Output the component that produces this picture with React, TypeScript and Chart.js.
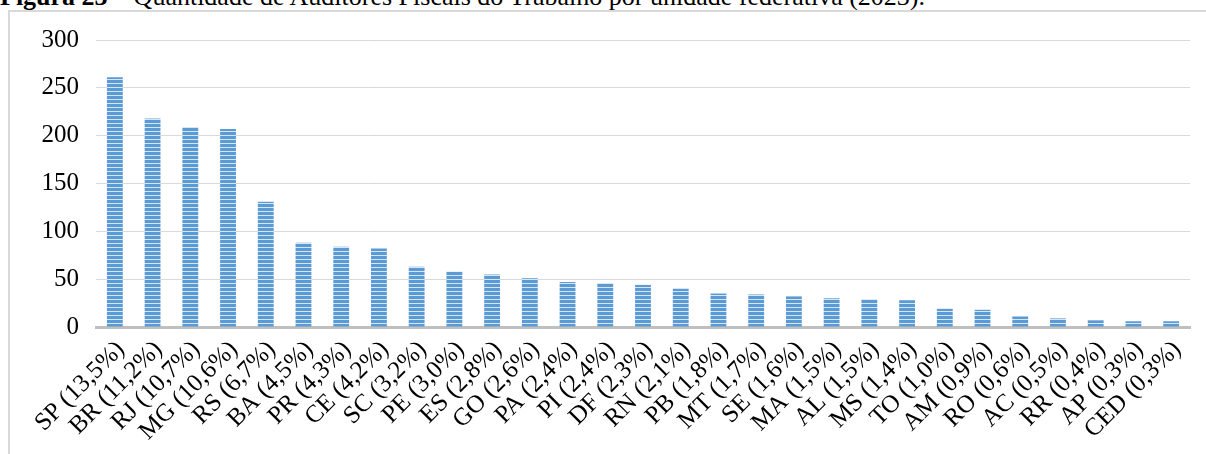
import React, { useEffect, useRef } from "react";
import { Chart, registerables } from "chart.js";

Chart.register(...registerables);

const states = ["SP", "BR", "RJ", "MG", "RS", "BA", "PR", "CE", "SC", "PE", "ES", "GO", "PA", "PI", "DF", "RN", "PB", "MT", "SE", "MA", "AL", "MS", "TO", "AM", "RO", "AC", "RR", "AP", "CED"];
const shares = ["13,5%", "11,2%", "10,7%", "10,6%", "6,7%", "4,5%", "4,3%", "4,2%", "3,2%", "3,0%", "2,8%", "2,6%", "2,4%", "2,4%", "2,3%", "2,1%", "1,8%", "1,7%", "1,6%", "1,5%", "1,5%", "1,4%", "1,0%", "0,9%", "0,6%", "0,5%", "0,4%", "0,3%", "0,3%"];
const auditors = [261, 218, 209, 207, 131, 88, 84, 82, 63, 58, 55, 51, 47, 46, 44, 40, 35, 34, 32, 30, 29, 28, 19, 18, 11, 9, 7, 6, 6];
const yTicks = [0, 50, 100, 150, 200, 250, 300];

const labels = states.map((s, i) => `${s} (${shares[i]})`);
const FONT = "'Times New Roman', 'Liberation Serif', serif";

export default function App() {
  const ref = useRef<HTMLCanvasElement | null>(null);

  useEffect(() => {
    const canvas = ref.current;
    if (!canvas) return;
    const tile = document.createElement("canvas");
    tile.width = 4;
    tile.height = 4;
    const tctx = tile.getContext("2d")!;
    tctx.fillStyle = "#5b9bd5";
    tctx.fillRect(0, 0, 4, 3);
    tctx.fillStyle = "#d6e6f5";
    tctx.fillRect(0, 3, 4, 1);
    const pattern = canvas.getContext("2d")!.createPattern(tile, "repeat")!;

    const chart = new Chart(canvas, {
      type: "bar",
      data: {
        labels,
        datasets: [
          {
            data: auditors,
            backgroundColor: pattern as any,
            borderWidth: 0,
            barPercentage: 0.42,
            categoryPercentage: 1,
          },
        ],
      },
      options: {
        responsive: false,
        animation: false,
        layout: { padding: { top: 40, right: 16, bottom: 0, left: 0 } },
        plugins: { legend: { display: false }, tooltip: { enabled: false }, title: { display: false } },
        scales: {
          x: {
            grid: { display: false },
            border: { display: true, color: "#bfbfbf", width: 3 },
            ticks: {
              autoSkip: false,
              minRotation: 45,
              maxRotation: 45,
              padding: 0,
              labelOffset: 6,
              color: "#000",
              font: { family: FONT, size: 25 },
            },
            afterFit: (s: any) => {
              s.height = 127;
            },
          },
          y: {
            min: 0,
            max: 300,
            afterBuildTicks: (s: any) => {
              s.ticks = yTicks.map((v) => ({ value: v }));
            },
            grid: { color: "#d9d9d9", lineWidth: 1, drawTicks: false },
            border: { display: false },
            ticks: {
              padding: 17,
              color: "#000",
              font: { family: FONT, size: 25 },
            },
            afterFit: (s: any) => {
              s.width = 96;
            },
          },
        },
      },
    });
    return () => chart.destroy();
  }, []);

  return (
    <div style={{ position: "absolute", left: 0, top: 0, width: 1206, height: 454, overflow: "hidden", background: "#fff" }}>
      <div
        style={{
          position: "absolute",
          left: 0,
          top: -16,
          fontFamily: FONT,
          fontSize: 26,
          lineHeight: "26px",
          whiteSpace: "nowrap",
          color: "#000",
        }}
      >
        <b>Figura 23</b> – Quantidade de Auditores Fiscais do Trabalho por unidade federativa (2023).
      </div>
      <div
        style={{
          position: "absolute",
          left: 8,
          top: 10,
          width: 1300,
          height: 500,
          borderLeft: "2px solid #d9d9d9",
          borderTop: "2px solid #d9d9d9",
        }}
      />
      <canvas ref={ref} width={1206} height={454} style={{ position: "absolute", left: 0, top: 0, width: 1206, height: 454 }} />
    </div>
  );
}
